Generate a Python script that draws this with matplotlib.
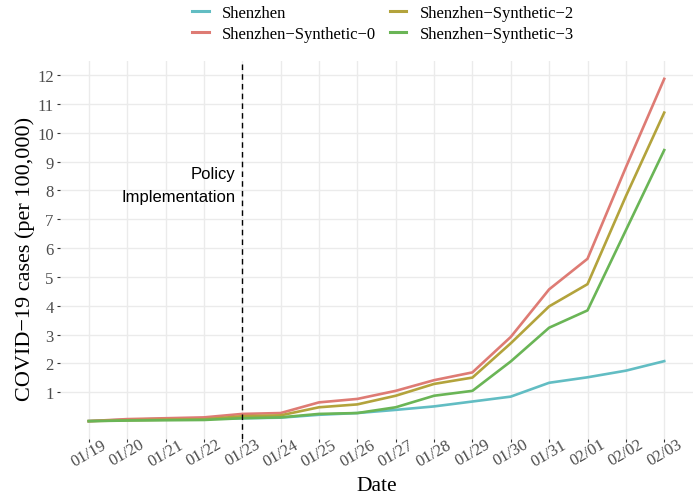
import matplotlib
matplotlib.use("Agg")
import matplotlib.pyplot as plt
import matplotlib.transforms as mtransforms
from matplotlib.lines import Line2D

dates = ["01/19", "01/20", "01/21", "01/22", "01/23", "01/24", "01/25", "01/26",
         "01/27", "01/28", "01/29", "01/30", "01/31", "02/01", "02/02", "02/03"]
shenzhen = [0.00, 0.05, 0.08, 0.08, 0.10, 0.12, 0.22, 0.28,
            0.39, 0.51, 0.68, 0.85, 1.33, 1.52, 1.75, 2.08]
synth0 = [0.00, 0.07, 0.10, 0.13, 0.25, 0.28, 0.65, 0.77,
          1.05, 1.42, 1.69, 2.92, 4.57, 5.63, 8.80, 11.87]
synth2 = [0.00, 0.03, 0.05, 0.06, 0.17, 0.20, 0.48, 0.58,
          0.88, 1.29, 1.51, 2.70, 3.98, 4.75, 7.80, 10.70]
synth3 = [0.00, 0.02, 0.03, 0.04, 0.10, 0.13, 0.25, 0.28,
          0.48, 0.88, 1.05, 2.07, 3.24, 3.84, 6.62, 9.40]
series_names = ["Shenzhen", "Shenzhen\u2212Synthetic\u22120",
                "Shenzhen\u2212Synthetic\u22122", "Shenzhen\u2212Synthetic\u22123"]
colors = ["#62BDC3", "#DE7B74", "#B3A33C", "#6AB556"]
yticks = list(range(1, 13))
policy_date = "01/23"

serif = ["Liberation Serif", "DejaVu Serif"]
sans = ["Liberation Sans", "DejaVu Sans"]
fig = plt.figure(figsize=(6.98, 5.02), dpi=100)
W, H = 698, 502
ax = fig.add_axes([60 / W, (H - 440) / H, (693 - 60) / W, (440 - 62) / H])

x = list(range(len(dates)))
for vals, c in zip([shenzhen, synth0, synth2, synth3], colors):
    ax.plot(x, vals, color=c, lw=1.9, solid_joinstyle="round", zorder=3)

px = dates.index(policy_date)
ax.axvline(px, color="black", lw=1.0, ls=(0, (4, 3)), zorder=4)
ax.text(px - 0.18, 8.60, "Policy", ha="right", va="center",
        fontsize=12, family=sans, color="black")
ax.text(px - 0.18, 7.78, "Implementation", ha="right", va="center",
        fontsize=12, family=sans, color="black")

ax.set_xlim(-0.75, len(dates) - 1 + 0.75)
ax.set_ylim(-0.62, 12.49)
ax.set_xticks(x)
ax.set_xticklabels(dates, rotation=30, ha="center", va="top", fontsize=12,
                   family=serif, color="#4D4D4D")
ax.set_yticks(yticks)
ax.set_yticklabels([str(v) for v in yticks], fontsize=12, family=serif, color="#4D4D4D")
offset = mtransforms.ScaledTranslation(3 / 100, 0, fig.dpi_scale_trans)
for lab in ax.get_xticklabels():
    lab.set_transform(lab.get_transform() + offset)

ax.tick_params(axis="both", length=2.5, width=0.8, color="#333333")
ax.tick_params(axis="y", pad=2)
ax.tick_params(axis="x", pad=-4.5)
ax.grid(True, color="#EBEBEB", lw=1.0, zorder=0)
ax.set_axisbelow(True)
for s in ax.spines.values():
    s.set_visible(False)

fig.text(376.5 / W, 1 - 487 / H, "Date", ha="center", va="center",
         fontsize=15.5, family=serif)
fig.text(25 / W, 1 - 259 / H, "COVID\u221219 cases (per 100,000)", ha="center",
         va="center", rotation=90, fontsize=16, family=serif)

handles = [Line2D([0], [0], color=c, lw=2.2) for c in colors]
leg = fig.legend(handles, series_names,
                 ncol=2, loc="upper center", bbox_to_anchor=(383 / W, 1.018),
                 frameon=False, prop={"family": serif, "size": 12},
                 handlelength=1.0, handletextpad=0.8, columnspacing=0.8,
                 labelspacing=0.28)
fig.savefig("out.png", dpi=100)
